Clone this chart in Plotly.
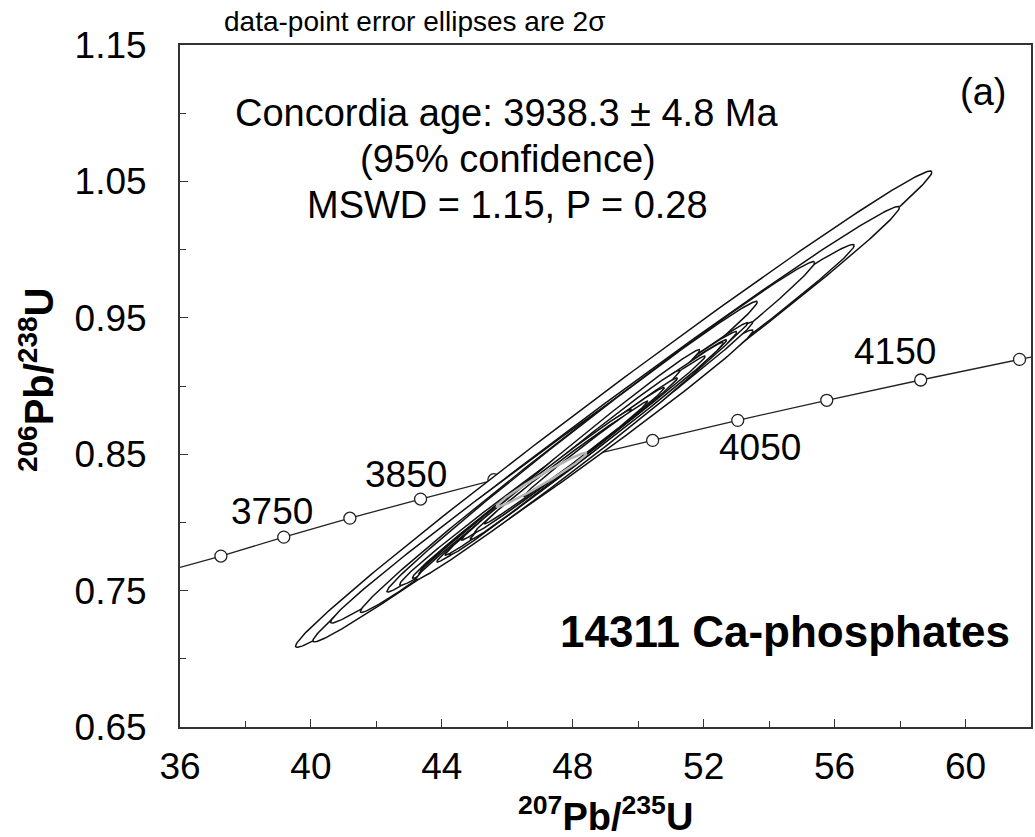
import numpy as np
import plotly.graph_objects as go

# ---------------- data ----------------
# Concordia curve vertices (207Pb/235U, 206Pb/238U) incl. the ends at the plot frame
conc_x = [36.0, 37.25, 39.17, 41.19, 43.35, 45.59, 47.92, 50.44, 53.04, 55.76, 58.63, 61.65, 62.0]
conc_y = [0.767, 0.7753, 0.7892, 0.8031, 0.8171, 0.8313, 0.8456, 0.8601, 0.8748, 0.8895, 0.9044, 0.9195, 0.9212]

# Concordia age markers (Ma)
mark_age = [3700, 3750, 3800, 3850, 3900, 3950, 4000, 4050, 4100, 4150, 4200]
mark_x = [37.25, 39.17, 41.19, 43.35, 45.59, 47.92, 50.44, 53.04, 55.76, 58.63, 61.65]
mark_y = [0.7753, 0.7892, 0.8031, 0.8171, 0.8313, 0.8456, 0.8601, 0.8748, 0.8895, 0.9044, 0.9195]

# Labelled ages and label positions
lab_age = ["3750", "3850", "4050", "4150"]
lab_x = [38.81, 42.90, 53.71, 57.86]
lab_y = [0.8077, 0.8349, 0.8547, 0.9251]

# Data-point error ellipses: centre, 1-sigma errors, error correlation
ell_x = [49.25, 49.02, 48.60, 48.45, 47.98, 48.11, 48.30, 48.17, 47.90, 47.60,
         48.50, 48.06, 48.80, 47.70, 48.07, 48.20, 47.20, 47.50,
         48.35, 47.85, 48.65, 48.00, 47.40, 48.40]
ell_y = [0.8830, 0.8720, 0.8650, 0.8626, 0.8555, 0.8475, 0.8530, 0.8507, 0.8460, 0.8380,
         0.8570, 0.8515, 0.8620, 0.8420, 0.8495, 0.8510, 0.8350, 0.8390,
         0.8555, 0.8440, 0.8600, 0.8480, 0.8365, 0.8540]
ell_sx = [4.86, 4.48, 4.00, 3.47, 2.83, 2.70, 2.60, 2.42, 2.30, 2.20,
          2.10, 1.91, 1.90, 1.80, 1.60, 1.50, 1.30, 1.10,
          2.50, 2.00, 1.70, 1.40, 1.20, 0.95]
ell_sy = [0.0873, 0.0798, 0.0694, 0.0643, 0.0533, 0.0468, 0.0470, 0.0446, 0.0420, 0.0400,
          0.0385, 0.0376, 0.0350, 0.0330, 0.0310, 0.0275, 0.0240, 0.0200,
          0.0455, 0.0365, 0.0310, 0.0255, 0.0220, 0.0175]
ell_rho = [0.995, 0.995, 0.995, 0.995, 0.995, 0.994, 0.996, 0.995, 0.996, 0.995,
           0.996, 0.995, 0.995, 0.996, 0.995, 0.996, 0.995, 0.995,
           0.997, 0.996, 0.996, 0.995, 0.995, 0.995]

# grey ellipse
grey_x, grey_y, grey_sx, grey_sy, grey_rho = 47.05, 0.8313, 0.687, 0.0099, 0.98

FONT = "Liberation Sans, Arial, sans-serif"


def ellipse(cx, cy, sx, sy, rho, k=2.0, n=300):
    t = np.linspace(0, 2 * np.pi, n)
    x = cx + k * sx * np.cos(t)
    y = cy + k * sy * (rho * np.cos(t) + np.sqrt(1 - rho ** 2) * np.sin(t))
    return x, y


fig = go.Figure()

# concordia line with markers (beneath ellipses)
fig.add_trace(go.Scatter(x=conc_x, y=conc_y, mode="lines",
                         line=dict(color="#222222", width=1.3),
                         hoverinfo="skip", showlegend=False))
fig.add_trace(go.Scatter(x=mark_x, y=mark_y, mode="markers",
                         marker=dict(size=12, color="white",
                                     line=dict(color="#222222", width=1.3)),
                         text=[str(a) for a in mark_age],
                         showlegend=False))

# ellipses, largest first, white filled
order = sorted(range(len(ell_x)), key=lambda i: -ell_sx[i])
for i in order:
    ex, ey = ellipse(ell_x[i], ell_y[i], ell_sx[i], ell_sy[i], ell_rho[i])
    fig.add_trace(go.Scatter(x=ex, y=ey, mode="lines", fill="toself",
                             fillcolor="white",
                             line=dict(color="#111111", width=1.5),
                             hoverinfo="skip", showlegend=False))

gx, gy = ellipse(grey_x, grey_y, grey_sx, grey_sy, grey_rho)
fig.add_trace(go.Scatter(x=gx, y=gy, mode="lines",
                         line=dict(color="#b4b4b4", width=2.5),
                         hoverinfo="skip", showlegend=False))

annotations = []
for t, x, y in zip(lab_age, lab_x, lab_y):
    annotations.append(dict(x=x, y=y, xref="x", yref="y", text=t, showarrow=False,
                            font=dict(family=FONT, size=37, color="black"),
                            xanchor="center", yanchor="middle"))


def pap(px, py):
    return (px - 180) / 853.0, (727 - py) / 681.5


txts = [
    ("Concordia age: 3938.3 ± 4.8 Ma", 508, 113, 38),
    ("(95% confidence)", 509, 159, 38),
    ("MSWD = 1.15, P = 0.28", 508, 205, 38),
    ("(a)", 985, 92, 38),
]
for t, px, py, fs in txts:
    x, y = pap(px, py)
    annotations.append(dict(x=x, y=y, xref="paper", yref="paper", text=t, showarrow=False,
                            font=dict(family=FONT, size=fs, color="black"),
                            xanchor="center", yanchor="middle"))

x, y = pap(786, 632)
annotations.append(dict(x=x, y=y, xref="paper", yref="paper", text="<b>14311 Ca-phosphates</b>",
                        showarrow=False, font=dict(family=FONT, size=44, color="black"),
                        xanchor="center", yanchor="middle"))

x, y = pap(222, 22)
annotations.append(dict(x=x, y=y, xref="paper", yref="paper", text="data-point error ellipses are 2σ",
                        showarrow=False, font=dict(family=FONT, size=28, color="black"),
                        xanchor="left", yanchor="middle"))

x, y = pap(606, 814)
annotations.append(dict(x=x, y=y, xref="paper", yref="paper",
                        text="<b><sup>207</sup>Pb/<sup>235</sup>U</b>",
                        showarrow=False, font=dict(family=FONT, size=38, color="black"),
                        xanchor="center", yanchor="middle"))
x, y = pap(36, 380)
annotations.append(dict(x=x, y=y, xref="paper", yref="paper",
                        text="<b><sup>206</sup>Pb/<sup>238</sup>U</b>", textangle=-90,
                        showarrow=False, font=dict(family=FONT, size=40, color="black"),
                        xanchor="center", yanchor="middle"))

axis_common = dict(showgrid=False, zeroline=False, showline=True, linecolor="#333333",
                   linewidth=2, mirror=True, ticks="inside", ticklen=8, tickwidth=1.3,
                   tickcolor="#333333",
                   tickfont=dict(family=FONT, size=37, color="black"))

fig.update_layout(
    width=1035, height=837,
    margin=dict(l=180, r=2, t=45, b=110),
    paper_bgcolor="white", plot_bgcolor="white",
    annotations=annotations,
    xaxis=dict(range=[36, 62], tick0=36, dtick=4, ticklabelstandoff=6,
               minor=dict(ticks="inside", ticklen=6, dtick=2, tick0=36, tickcolor="#333333", tickwidth=1.3),
               **axis_common),
    yaxis=dict(range=[0.65, 1.15], tick0=0.65, dtick=0.1, tickformat=".2f", ticklabelstandoff=24,
               minor=dict(ticks="inside", ticklen=6, dtick=0.05, tick0=0.65, tickcolor="#333333", tickwidth=1.3),
               **axis_common),
)

fig.write_html("out.html")
